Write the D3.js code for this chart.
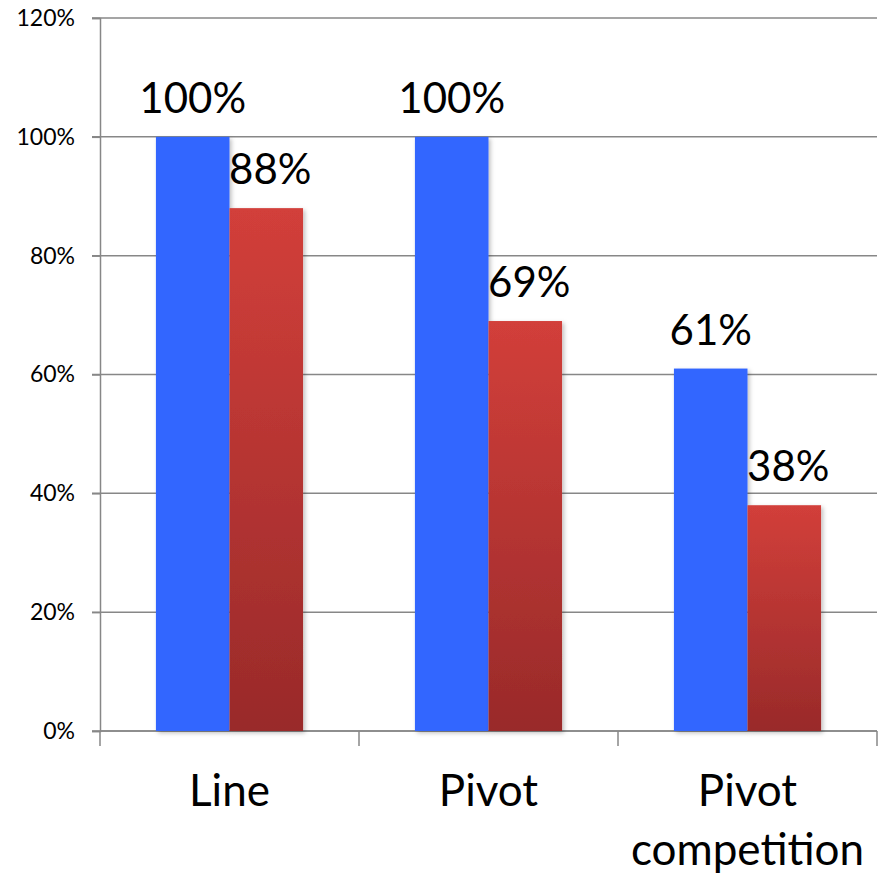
<!DOCTYPE html>
<html>
<head>
<meta charset="utf-8">
<script src="https://cdn.jsdelivr.net/npm/d3@7"></script>
<style>
  html, body { margin: 0; padding: 0; background: #fff; }
  svg { display: block; font-family: Lato, "Open Sans", sans-serif; }
</style>
</head>
<body>
<svg id="chart" width="885" height="875"></svg>
<script>
// Categories and the two series of shares
const categories = ["Line", "Pivot", "Pivot competition"];
const seriesA = [1.00, 1.00, 0.61];
const seriesB = [0.88, 0.69, 0.38];
const yTicks = [0, 0.2, 0.4, 0.6, 0.8, 1.0, 1.2];

const svg = d3.select("#chart");
const plotLeft = 100, plotRight = 877, plotTop = 18, plotBottom = 731;

const x = d3.scaleBand().domain(categories).range([plotLeft, plotRight]).paddingInner(0).paddingOuter(0);
const y = d3.scaleLinear().domain([0, 1.2]).range([plotBottom, plotTop]);
const groupW = x.bandwidth() * 0.568;
const sub = d3.scaleBand().domain(["a", "b"]).range([0, groupW]);

const defs = svg.append("defs");
const grad = defs.append("linearGradient").attr("id", "redGrad")
  .attr("x1", 0).attr("y1", 0).attr("x2", 0).attr("y2", 1);
grad.append("stop").attr("offset", "0%").attr("stop-color", "#d23f3a");
grad.append("stop").attr("offset", "100%").attr("stop-color", "#992a2a");
const shadow = defs.append("filter").attr("id", "shadow")
  .attr("x", "-10%").attr("y", "-10%").attr("width", "130%").attr("height", "130%");
shadow.append("feDropShadow").attr("dx", 2).attr("dy", 2).attr("stdDeviation", 2)
  .attr("flood-color", "#000").attr("flood-opacity", 0.25);

// Gridlines
svg.append("g").selectAll("line").data(yTicks).join("line")
  .attr("x1", plotLeft - 8).attr("x2", plotRight)
  .attr("y1", d => y(d)).attr("y2", d => y(d))
  .attr("stroke", "#878787").attr("stroke-width", 1.5);

// Y axis
const yAxis = svg.append("g").attr("transform", `translate(${plotLeft},0)`)
  .call(d3.axisLeft(y).tickValues(yTicks).tickFormat(d3.format(".0%")).tickSize(8).tickPadding(17));
yAxis.select(".domain").attr("stroke", "#878787").attr("stroke-width", 1.5);
yAxis.selectAll(".tick line").attr("stroke", "#878787").attr("stroke-width", 1.5);
yAxis.selectAll(".tick text").attr("font-size", 23).attr("fill", "#000")
  .attr("font-family", "Lato, 'Open Sans', sans-serif");

// X axis line and category dividers
svg.append("line").attr("x1", plotLeft).attr("x2", plotRight).attr("y1", plotBottom).attr("y2", plotBottom)
  .attr("stroke", "#878787").attr("stroke-width", 1.5);
const dividers = categories.map(c => x(c)).concat([x(categories[categories.length - 1]) + x.bandwidth()]);
svg.append("g").selectAll("line").data(dividers).join("line")
  .attr("x1", d => d).attr("x2", d => d).attr("y1", plotBottom).attr("y2", plotBottom + 15)
  .attr("stroke", "#878787").attr("stroke-width", 1.5);

// Bars
const rows = categories.map((c, i) => ({ c, a: seriesA[i], b: seriesB[i] }));
const groups = svg.append("g").selectAll("g").data(rows).join("g")
  .attr("transform", d => `translate(${x(d.c) + (x.bandwidth() - groupW) / 2},0)`);

groups.append("rect")
  .attr("x", sub("a")).attr("width", sub.bandwidth())
  .attr("y", d => y(d.a)).attr("height", d => y(0) - y(d.a))
  .attr("fill", "#3366ff").attr("filter", "url(#shadow)");
groups.append("rect")
  .attr("x", sub("b")).attr("width", sub.bandwidth())
  .attr("y", d => y(d.b)).attr("height", d => y(0) - y(d.b))
  .attr("fill", "url(#redGrad)").attr("filter", "url(#shadow)");

// Value labels
const fmt = d3.format(".0%");
groups.append("text")
  .attr("x", sub("a") + sub.bandwidth() / 2).attr("y", d => y(d.a) - 24)
  .attr("text-anchor", "middle").attr("font-size", 42).attr("fill", "#000")
  .text(d => fmt(d.a));
groups.append("text")
  .attr("x", sub("b") + sub.bandwidth() / 2 + 4).attr("y", d => y(d.b) - 24)
  .attr("text-anchor", "middle").attr("font-size", 42).attr("fill", "#000")
  .text(d => fmt(d.b));

// Category labels, wrapped on spaces for multi-word names
const catLabels = svg.append("g").selectAll("text").data(categories).join("text")
  .attr("x", d => x(d) + x.bandwidth() / 2).attr("y", 806)
  .attr("text-anchor", "middle").attr("font-size", 44).attr("fill", "#000");
catLabels.each(function(d) {
  const words = d.split(" ");
  const t = d3.select(this);
  words.forEach((w, i) => {
    t.append("tspan").attr("x", x(d) + x.bandwidth() / 2).attr("dy", i === 0 ? 0 : 59).text(w);
  });
});
</script>
</body>
</html>
